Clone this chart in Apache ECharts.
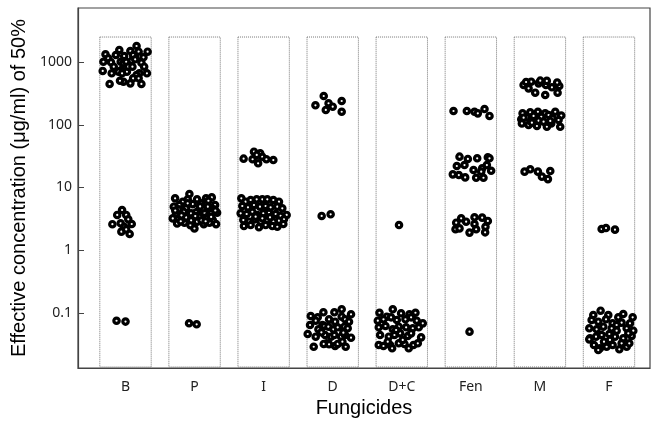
<!DOCTYPE html>
<html>
<head>
<meta charset="utf-8">
<script src="https://cdn.jsdelivr.net/npm/echarts@6/dist/echarts.min.js"></script>
<style>html,body{margin:0;padding:0;background:#fff;}#c{width:655px;height:425px;}</style>
</head>
<body>
<div id="c"></div>
<script>
// Categories and tick values
const categories = ['B', 'P', 'I', 'D', 'D+C', 'Fen', 'M', 'F'];
const yTicks = [0.1, 1, 10, 100, 1000];
const boxTop = [2500, 2500, 2500, 2500, 2500, 2500, 2500, 2500];

// Each point: [jitter offset within category, EC50 value]
const B = [
  [-0.29,1326],[-0.32,1010],[-0.33,720],[-0.25,1146],[-0.21,990],[-0.20,660],[-0.17,841],[-0.14,1293],
  [-0.09,1553],[-0.07,1010],[-0.06,745],[-0.03,953],[-0.02,1246],[0.01,1010],[0.02,700],[0.04,841],
  [0.07,1497],[0.09,1050],[0.10,841],[0.11,1293],[0.14,1104],[0.16,1800],[0.19,1459],[0.21,1215],
  [0.23,975],[0.26,1188],[0.27,841],[0.32,1459],[0.31,660],[0.20,660],[0.16,621],[0.11,550],
  [0.07,457],[-0.03,485],[-0.08,503],[-0.23,447],[0.23,447],[0.19,550],[-0.10,700],[-0.05,660],
  [-0.05,4.38],[-0.12,3.65],[0.01,3.65],[0.04,3.11],[-0.07,2.69],[-0.19,2.6],[-0.02,2.37],[0.09,2.62],
  [-0.06,1.98],[0.06,1.82],[0.01,2.15],
  [-0.13,0.0753],[0.0,0.073]
];
const P = [
  [-0.282,6.71],[-0.171,5.93],[-0.075,7.87],[0.036,6.47],[0.166,6.71],[0.249,6.96],[0.297,5.25],[-0.301,4.94],
  [-0.220,5.25],[-0.123,4.65],[-0.027,5.44],[0.094,5.58],[0.191,4.94],[0.278,4.48],[-0.268,3.87],[-0.157,4.11],
  [-0.051,3.87],[0.055,4.26],[0.142,3.96],[0.239,3.87],[0.326,3.96],[-0.316,3.22],[-0.234,3.10],[-0.123,3.34],
  [-0.012,3.10],[0.070,3.42],[0.181,3.22],[0.263,3.03],[-0.253,2.67],[-0.147,2.74],[-0.060,2.51],[0.036,2.85],
  [0.133,2.61],[0.215,2.74],[0.311,2.61],[-0.002,2.22],[-0.234,4.48],[-0.099,6.47],[0.118,4.65],[0.200,6.15],
  [-0.19,3.6],[0.02,4.0],[0.10,3.0],[-0.05,3.0],[0.24,3.4],[-0.28,4.3],[0.30,4.3],[0.08,5.0],
  [-0.10,5.6],[0.16,2.9],[-0.20,2.9],[0.01,3.5],
  [-0.08,0.0686],[0.03,0.066]
];
const I = [
  [-0.29,28.8],[-0.14,37.2],[-0.05,35],[-0.02,30.9],[-0.16,28.2],[-0.08,24.3],[0.04,28.2],[0.14,27.4],[-0.10,33],
  [-0.323,6.71],[-0.261,5.94],[-0.188,6.32],[-0.101,6.47],[-0.019,6.47],[0.053,6.47],[0.140,6.32],[0.222,5.94],
  [-0.309,5.07],[-0.227,4.83],[-0.140,5.26],[-0.053,4.94],[0.029,5.07],[0.101,4.83],[0.198,4.94],[0.270,4.65],
  [-0.333,3.87],[-0.246,3.78],[-0.164,4.11],[-0.092,3.65],[-0.005,3.87],[0.077,3.96],[0.174,3.78],[0.246,3.52],
  [0.333,3.65],[-0.294,3.03],[-0.212,2.85],[-0.130,3.11],[-0.043,2.85],[0.053,3.03],[0.140,2.85],[0.222,2.96],
  [0.294,3.11],[-0.285,2.43],[-0.188,2.52],[-0.068,2.32],[0.029,2.52],[0.126,2.43],[0.198,2.37],[0.285,2.62],
  [-0.116,3.43],[-0.019,3.23],[0.092,3.35]
];
const D = [
  [-0.25,204],[-0.13,287],[-0.06,220],[-0.10,172],[0.0,194],[0.13,239],[0.13,161],
  [-0.16,3.52],[-0.03,3.74],
  [-0.318,0.0896],[-0.217,0.0853],[-0.135,0.1026],[0.024,0.1026],[0.130,0.1146],[0.265,0.0953],[-0.328,0.0644],
  [-0.246,0.0754],[-0.149,0.0644],[-0.053,0.0794],[0.034,0.0727],[0.130,0.0873],[0.179,0.0794],[0.236,0.0727],
  [-0.362,0.0463],[-0.207,0.0550],[-0.120,0.0621],[-0.063,0.0605],[0.010,0.0550],[0.072,0.0592],[0.169,0.0605],
  [0.217,0.0570],[-0.246,0.0419],[-0.111,0.0446],[-0.024,0.0419],[0.024,0.0446],[0.121,0.0419],[0.179,0.0446],
  [0.265,0.0404],[-0.087,0.0329],[-0.130,0.0321],[0.034,0.0298],[0.072,0.0321],[0.140,0.0349],[0.188,0.0290],
  [-0.275,0.0290],[-0.053,0.0317],[0.154,0.0486],[-0.164,0.0492]
];
const DC = [
  [-0.04,2.52],
  [-0.323,0.101],[-0.217,0.0873],[-0.130,0.1146],[-0.010,0.0989],[0.111,0.0953],[0.198,0.101],[-0.347,0.0754],
  [-0.265,0.0794],[-0.155,0.0853],[-0.072,0.0773],[0.053,0.0794],[0.135,0.0853],[0.217,0.0754],[0.304,0.0684],
  [-0.333,0.0592],[-0.236,0.0621],[-0.130,0.0550],[-0.043,0.0605],[0.063,0.0592],[0.159,0.0570],[0.246,0.0592],
  [-0.314,0.0446],[-0.188,0.0419],[-0.106,0.0446],[-0.024,0.0474],[0.087,0.0430],[0.135,0.0474],[0.280,0.0409],
  [-0.333,0.0309],[-0.265,0.0298],[-0.169,0.0309],[-0.140,0.0274],[-0.043,0.0329],[0.039,0.0321],[0.101,0.0274],
  [0.169,0.0309],[0.232,0.0329],[-0.082,0.0536],[0.014,0.0372],[-0.203,0.0349]
];
const Fen = [
  [-0.251,165.6],[-0.058,165.6],[0.053,161],[0.101,152],[0.198,178],[0.270,138],
  [-0.164,31],[-0.043,28.5],[0.092,29.2],[0.246,30.3],[-0.203,22],[-0.092,22.8],[0.039,19],[0.164,20.2],
  [0.232,22.8],[0.294,18.5],[-0.261,16.2],[-0.174,15.8],[-0.082,14.5],[0.077,14.3],[0.183,14.3],[0.150,17.9],[0.270,29.2],
  [-0.212,2.75],[-0.140,3.23],[-0.068,2.85],[0.053,3.35],[0.164,3.31],[0.246,2.93],[-0.222,2.16],[-0.164,2.23],
  [-0.019,1.91],[0.077,2.16],[0.212,2.37],[0.207,1.93],[0.053,2.62],
  [-0.019,0.0504]
];
const M = [
  [-0.236,430],[-0.126,485],[-0.019,457],[0.087,430],[0.174,395],[0.280,415],[-0.164,380],[-0.068,324],
  [0.077,298],[0.256,324],[0.005,504],[-0.20,480],[0.10,500],[0.25,470],
  [-0.251,152],[-0.140,158],[-0.029,161],[0.077,152],[0.222,161],[0.309,140],[-0.270,122],[-0.188,131],
  [-0.092,138],[0.019,134],[0.126,143],[0.183,126.5],[0.270,119],[-0.261,105],[-0.164,99],[-0.116,108],
  [-0.019,116],[0.101,93],[0.164,105],[0.294,93],[-0.043,95.5],[0.053,112],[-0.236,129.5],[0.150,115],
  [-0.222,17.9],[-0.140,19.5],[-0.029,17.9],[0.029,14.9],[0.116,13.6],[0.150,18.3]
];
const F = [
  [-0.106,2.18],[-0.043,2.26],[0.087,2.13],
  [-0.121,0.1089],[-0.227,0.0929],[-0.010,0.0929],[0.135,0.0853],[0.207,0.0964],[0.343,0.0853],[-0.251,0.0773],
  [-0.155,0.0727],[-0.043,0.0794],[0.053,0.0684],[0.183,0.0702],[0.304,0.0684],[-0.285,0.0570],[-0.179,0.0550],
  [-0.082,0.0605],[0.039,0.0570],[0.111,0.0522],[0.256,0.0570],[0.352,0.0522],[-0.275,0.0394],[-0.188,0.0419],
  [-0.106,0.0446],[0.005,0.0463],[0.087,0.0419],[0.207,0.0394],[0.328,0.0430],[-0.217,0.0309],[-0.130,0.0274],
  [-0.034,0.0290],[0.053,0.0309],[0.150,0.0264],[0.256,0.0290],[0.294,0.0329],[-0.285,0.0380],[-0.072,0.0349],
  [0.183,0.0329],[-0.155,0.0257],[0.111,0.0644],[0.280,0.0474],[0.014,0.0372]
];
const groups = [B, P, I, D, DC, Fen, M, F];

const Y_MIN = 0.01329, Y_MAX = 7254;
const X_MIN = 0.312, X_MAX = 8.594;
const BOX_HALF = 0.372;

const scatterData = [];
groups.forEach((g, i) => g.forEach(([o, v]) => scatterData.push([i + 1 + o, v])));
const boxData = boxTop.map((t, i) => [i + 1, t]);

const chart = echarts.init(document.getElementById('c'), null, {renderer: 'canvas'});
chart.setOption({
  animation: false,
  backgroundColor: '#fff',
  grid: {left: 78, top: 8, right: 5, bottom: 57, show: true, borderColor: '#444', borderWidth: 1.2, backgroundColor: 'transparent'},
  xAxis: {
    type: 'value', min: X_MIN, max: X_MAX,
    name: 'Fungicides', nameLocation: 'middle', nameGap: 29,
    nameTextStyle: {fontSize: 20, color: '#000', fontFamily: 'Liberation Sans, Arial, sans-serif'},
    axisLine: {show: true, lineStyle: {color: '#444', width: 1.2}},
    axisTick: {show: false},
    splitLine: {show: false},
    axisLabel: {
      customValues: [1, 2, 3, 4, 5, 6, 7, 8],
      formatter: v => categories[Math.round(v) - 1] || '',
      fontSize: 14, color: '#222', margin: 12, fontFamily: 'Noto Sans, sans-serif'
    }
  },
  yAxis: {
    type: 'log', min: Y_MIN, max: Y_MAX, logBase: 10,
    name: 'Effective concentration (\u03bcg/ml) of 50%', nameLocation: 'middle', nameGap: 42,
    nameTextStyle: {fontSize: 20, color: '#000', fontFamily: 'Liberation Sans, Arial, sans-serif'},
    axisLine: {show: true, lineStyle: {color: '#444', width: 1.2}},
    axisTick: {show: true, inside: true, length: 6, customValues: yTicks, lineStyle: {color: '#444'}},
    splitLine: {show: false},
    axisLabel: {
      customValues: yTicks,
      formatter: v => String(v),
      fontSize: 14, color: '#222', margin: 6, fontFamily: 'Noto Sans, sans-serif'
    }
  },
  series: [
    {
      type: 'custom',
      data: boxData,
      silent: true,
      z: 1,
      renderItem: (params, api) => {
        const x = api.value(0), top = api.value(1);
        const p0 = api.coord([x - BOX_HALF, top]);
        const p1 = api.coord([x + BOX_HALF, Y_MIN]);
        return {
          type: 'rect',
          shape: {x: p0[0], y: p0[1], width: p1[0] - p0[0], height: p1[1] - p0[1] - 1},
          style: {fill: 'none', stroke: '#777', lineWidth: 1, lineDash: [1, 1]}
        };
      }
    },
    {
      type: 'scatter',
      data: scatterData,
      symbol: 'circle',
      symbolSize: 5.4,
      z: 3,
      itemStyle: {color: '#fff', borderColor: '#000', borderWidth: 3.2, opacity: 1}
    }
  ]
});
</script>
</body>
</html>
